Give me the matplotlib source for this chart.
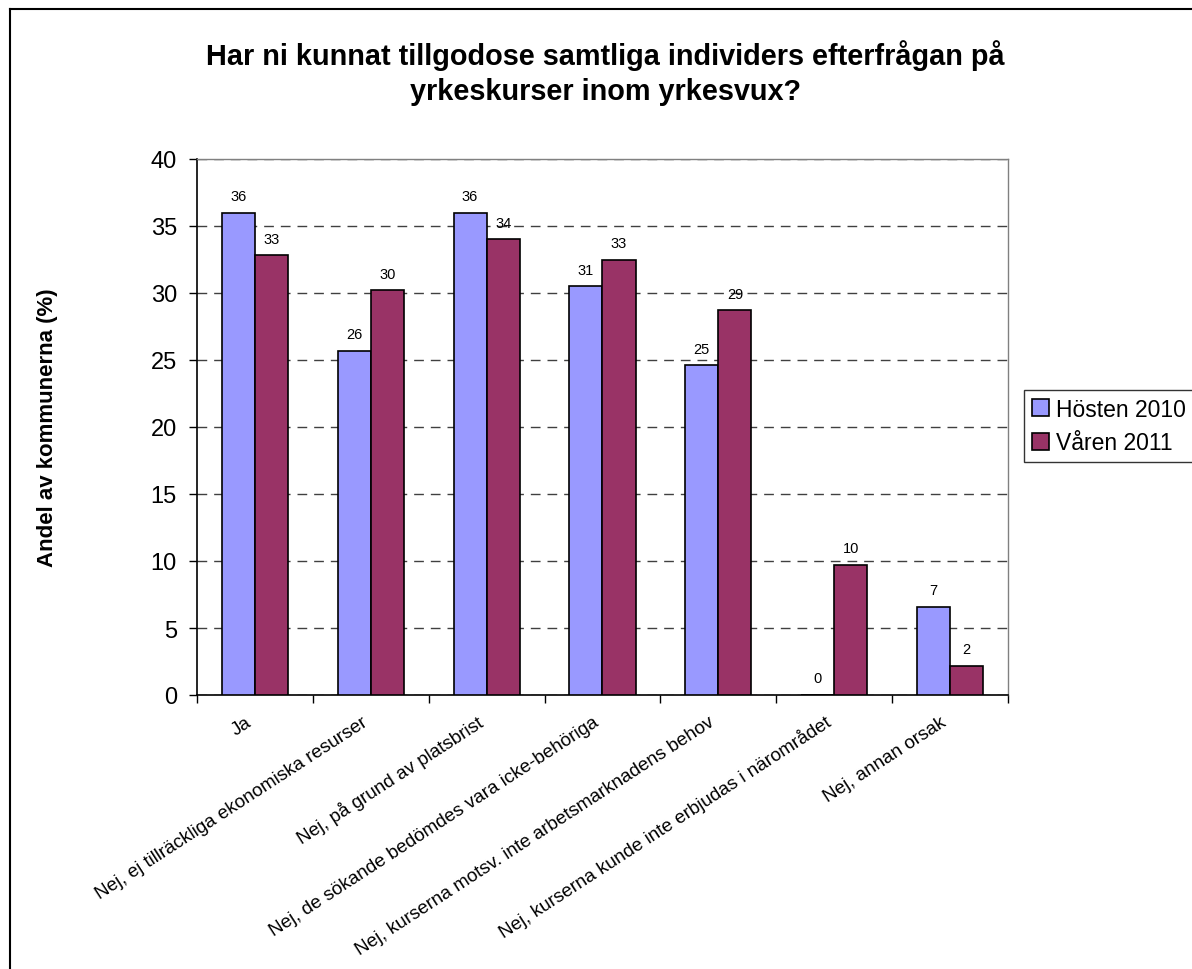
import matplotlib
matplotlib.use("Agg")
import matplotlib.pyplot as plt
from matplotlib.lines import Line2D
from matplotlib.transforms import ScaledTranslation
import numpy as np

plt.rcParams['font.family'] = ['Liberation Sans', 'DejaVu Sans']

categories = [
    "Ja",
    "Nej, ej tillräckliga ekonomiska resurser",
    "Nej, på grund av platsbrist",
    "Nej, de sökande bedömdes vara icke-behöriga",
    "Nej, kurserna motsv. inte arbetsmarknadens behov",
    "Nej, kurserna kunde inte erbjudas i närområdet",
    "Nej, annan orsak",
]
hosten_2010 = [36.0, 25.7, 36.0, 30.5, 24.6, 0.0, 6.6]
varen_2011 = [32.8, 30.2, 34.0, 32.5, 28.7, 9.7, 2.2]
series_names = ["Hösten 2010", "Våren 2011"]
colors = ["#9999FF", "#993366"]

W, H = 1192, 970
fig = plt.figure(figsize=(W / 100, H / 100), dpi=100)
ax = fig.add_axes([197 / W, 1 - 696 / H, (1008 - 197) / W, (696 - 160) / H])

x = np.arange(len(categories))
bw = 1 / 3.5
b1 = ax.bar(x - bw / 2, hosten_2010, bw, color=colors[0], edgecolor="black",
            linewidth=1.2, label=series_names[0], zorder=3)
b2 = ax.bar(x + bw / 2, varen_2011, bw, color=colors[1], edgecolor="black",
            linewidth=1.2, label=series_names[1], zorder=3)
for bars, vals in ((b1, hosten_2010), (b2, varen_2011)):
    for rect, v in zip(bars, vals):
        ax.annotate(f"{int(v + 0.5)}", (rect.get_x() + rect.get_width() / 2, v),
                    xytext=(0, 7), textcoords="offset points",
                    ha="center", va="bottom", fontsize=10.5, zorder=4)

ax.set_xlim(-0.5, len(categories) - 0.5)
ax.set_ylim(0, 40)
ax.set_yticks(range(0, 41, 5))
ax.tick_params(axis="y", labelsize=17, length=6, width=1, direction="out", pad=8.5)
ax.set_xticks(np.arange(len(categories) + 1) - 0.5, minor=False)
ax.set_xticklabels([])
ax.tick_params(axis="x", length=6, width=1, direction="out")
ax.set_xticks(x, minor=True)
ax.set_xticklabels(categories, minor=True, rotation=33, ha="right", va="center",
                   rotation_mode="anchor", fontsize=13.6)
ax.tick_params(axis="x", which="minor", length=0, pad=18)
shift = ScaledTranslation(-5 / 100, 0, fig.dpi_scale_trans)
for lab in ax.get_xticklabels(minor=True):
    lab.set_transform(lab.get_transform() + shift)

ax.yaxis.grid(True, linestyle=(0, (7, 5)), color="#404040", linewidth=1, zorder=0)
ax.set_axisbelow(True)
for s in ("top", "right"):
    ax.spines[s].set_color("#808080")
    ax.spines[s].set_linewidth(1)
for s in ("left", "bottom"):
    ax.spines[s].set_color("black")
    ax.spines[s].set_linewidth(1.2)

ax.set_ylabel("Andel av kommunerna (%)", fontsize=16, fontweight="bold", labelpad=0)
ax.yaxis.set_label_coords((58 - 197) / (1008 - 197), 0.5)

fig.text(605 / W, 1 - 73 / H,
         "Har ni kunnat tillgodose samtliga individers efterfrågan på\nyrkeskurser inom yrkesvux?",
         ha="center", va="center", fontsize=20.8, fontweight="bold", linespacing=1.3)

leg = ax.legend(loc="center left", bbox_to_anchor=(1024 / W, 1 - 427 / H),
                bbox_transform=fig.transFigure, fontsize=16.5, frameon=True,
                fancybox=False, edgecolor="black", handlelength=0.75,
                handleheight=0.75, handletextpad=0.3, borderpad=0.35,
                labelspacing=0.45, borderaxespad=0)
leg.get_frame().set_linewidth(1)

fig.add_artist(Line2D([10 / W, 10 / W], [0, 1 - 10 / H], transform=fig.transFigure,
                      color="black", linewidth=1.5))
fig.add_artist(Line2D([10 / W, 1], [1 - 10 / H, 1 - 10 / H], transform=fig.transFigure,
                      color="black", linewidth=1.5))

fig.savefig("out.png", dpi=100)
